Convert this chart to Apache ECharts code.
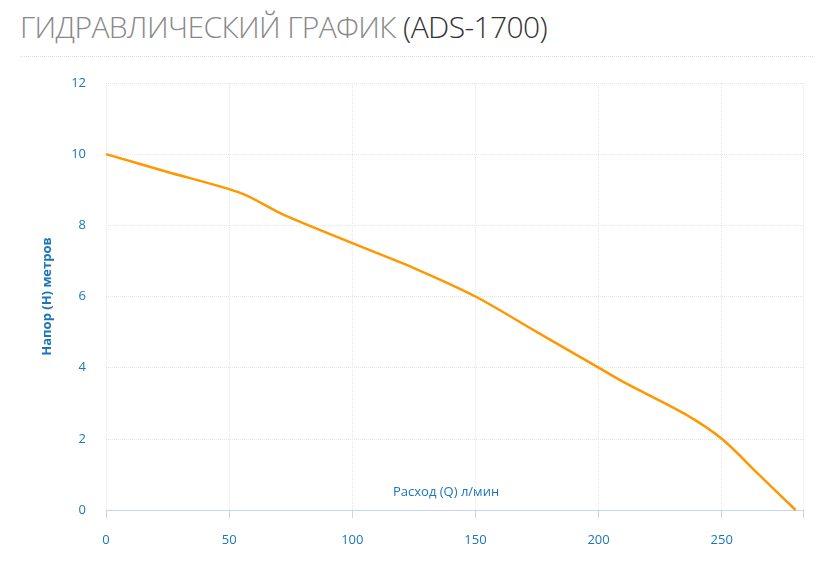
<!DOCTYPE html><html><head><meta charset="utf-8">
<script src="https://cdn.jsdelivr.net/npm/echarts@6/dist/echarts.min.js"></script>
<style>html,body{margin:0;padding:0;background:#fff}#c{width:817px;height:578px}
#t{position:absolute;left:20px;top:6px;font:300 30px "Open Sans";color:#888;letter-spacing:-0.6px}
#t span{color:#333}#l{position:absolute;left:20px;right:4px;top:56px;border-top:1px dotted #ddd}</style></head><body>
<div id="t">ГИДРАВЛИЧЕСКИЙ ГРАФИК <span>(ADS-1700)</span></div><div id="l"></div>
<div id="c"></div>
<script>
const flow=[0,25,55,72,100,125,150,175,200,210,235,250,265,280];
const head=[10,9.5,8.9,8.3,7.5,6.8,6,5,4,3.6,2.7,2,1,0];
const xTicks=[0,50,100,150,200,250];
const c=echarts.init(document.getElementById('c'));
const lab={color:'#1a75bb',fontFamily:'Open Sans',fontSize:13};
c.setOption({animation:false,
grid:{left:106,right:14,top:83,bottom:68},
graphic:[{type:'text',left:'center',top:486,style:{text:'Расход (Q) л/мин',fill:'#1a75bb',font:'13px "Open Sans"'},left:393}],
xAxis:{type:'value',min:0,max:283,interval:50,
axisLine:{lineStyle:{color:'#c8d4ea'}},axisTick:{show:true,length:8,lineStyle:{color:'#c8d4ea'}},
axisLabel:Object.assign({margin:24,formatter:v=>xTicks.includes(v)?String(v):''},lab),
splitLine:{lineStyle:{type:'dotted',color:'#e6e6e6'}}},
yAxis:{type:'value',min:0,max:12,interval:2,name:'Напор (Н) метров',nameLocation:'middle',nameGap:52,
nameTextStyle:{color:'#1a75bb',fontFamily:'Open Sans',fontSize:13,fontWeight:'bold'},
axisLine:{show:false},axisTick:{show:false},axisLabel:Object.assign({margin:20},lab),
splitLine:{lineStyle:{type:'dotted',color:'#e6e6e6'}}},
series:[{type:'line',data:flow.map((x,i)=>[x,head[i]]),smooth:0.3,symbol:'none',lineStyle:{color:'#ff9800',width:2.5}}]});
</script></body></html>
